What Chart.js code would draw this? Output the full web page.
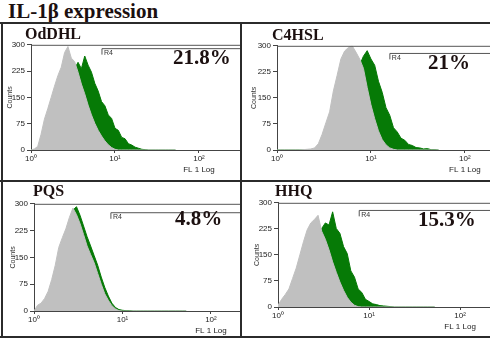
<!DOCTYPE html>
<html>
<head>
<meta charset="utf-8">
<script src="https://cdn.jsdelivr.net/npm/chart.js@4.4.1/dist/chart.umd.min.js"></script>
<style>
  body { margin: 0; background: #fff; }
  #wrap { position: relative; width: 490px; height: 338px; overflow: hidden; background: #fff; }
  canvas { position: absolute; }
  .rule { position: absolute; background: #2b2b2b; }
  .lbl { position: absolute; font-family: "Liberation Serif", "Times New Roman", serif; font-weight: bold;
         color: #1c1010; line-height: 1; white-space: nowrap; }
</style>
</head>
<body>
<div id="wrap">
  <div class="lbl" style="left:8px; top:1px; font-size:21px;">IL-1β expression</div>
</div>
<script>
// FL1 channels (log bins, 0.04 decade apart)
const bins = [1.00, 1.096, 1.202, 1.318, 1.445, 1.585, 1.738, 1.905, 2.089, 2.291,
              2.512, 2.754, 3.020, 3.311, 3.631, 3.981, 4.365, 4.786, 5.248, 5.754,
              6.310, 6.918, 7.586, 8.318, 9.120, 10.00, 10.96, 12.02, 13.18, 14.45,
              15.85, 17.38, 19.05, 20.89, 22.91, 25.12, 27.54, 30.20, 33.11, 36.31,
              39.81, 43.65, 47.86, 52.48];

// control (grey) and treated (green) counts per panel
const controlOdDHL = [0, 3, 10, 45, 88, 118, 150, 182, 212, 236, 278, 295, 262, 252, 222, 188, 160, 128, 100, 76,
                      56, 40, 26, 15, 7, 2, 0, 0, 0, 0, 0, 0, 0, 0, 0, 0, 0, 0, 0, 0, 0, 0, 0, 0];
const sampleOdDHL  = [0, 0, 2, 6, 15, 30, 50, 75, 100, 130, 158, 185, 210, 232, 250, 232, 268, 242, 222, 190,
                      168, 138, 126, 100, 90, 62, 56, 36, 32, 18, 14, 8, 5, 2, 1, 0, 0, 0, 0, 0, 0, 0, 0, 0];
const controlC4HSL = [0, 0, 0, 0, 0, 0, 0, 1, 2, 3, 6, 18, 45, 78, 110, 170, 215, 262, 285, 295,
                      300, 282, 262, 235, 180, 130, 90, 55, 30, 15, 6, 2, 0, 0, 0, 0, 0, 0, 0, 0, 0, 0, 0, 0];
const sampleC4HSL  = [0, 0, 0, 0, 0, 0, 0, 0, 0, 0, 2, 5, 12, 22, 38, 58, 82, 110, 140, 170,
                      198, 222, 245, 270, 286, 262, 244, 198, 166, 122, 100, 64, 52, 34, 28, 16, 13, 7, 6, 3, 4, 1, 1, 0];
const controlPQS   = [0, 16, 22, 35, 55, 88, 128, 178, 205, 230, 262, 288, 270, 245, 214, 182, 158, 135, 105, 75,
                      48, 30, 15, 6, 1, 0, 0, 0, 0, 0, 0, 0, 0, 0, 0, 0, 0, 0, 0, 0, 0, 0, 0, 0];
const samplePQS    = [0, 8, 12, 20, 35, 60, 95, 140, 170, 205, 240, 282, 292, 268, 238, 208, 182, 155, 128, 95,
                      66, 42, 22, 10, 4, 2, 1, 1, 0, 0, 0, 0, 0, 0, 0, 0, 0, 0, 0, 0, 0, 0, 0, 0];
const controlHHQ   = [5, 22, 36, 52, 82, 112, 150, 188, 222, 242, 252, 264, 218, 195, 165, 130, 100, 72, 48, 28,
                      14, 5, 1, 0, 0, 0, 0, 0, 0, 0, 0, 0, 0, 0, 0, 0, 0, 0, 0, 0, 0, 0, 0, 0];
const sampleHHQ    = [0, 5, 10, 18, 30, 45, 65, 90, 118, 145, 170, 195, 226, 242, 236, 274, 226, 212, 174, 154,
                      104, 86, 52, 42, 22, 16, 9, 7, 4, 3, 2, 1, 0, 0, 0, 0, 0, 0, 0, 0, 0, 0, 0, 0];

const panelNames = ['OdDHL', 'C4HSL', 'PQS', 'HHQ'];
const percents = ['21.8%', '21%', '4.8%', '15.3%'];
const controls = [controlOdDHL, controlC4HSL, controlPQS, controlHHQ];
const samples = [sampleOdDHL, sampleC4HSL, samplePQS, sampleHHQ];
const gateStart = [7.0, 15.9, 7.4, 7.8];
const gateLevel = [289, 278, 275, 278];
const tickVals = [1, 10, 100];
const tickLabels = ['10⁰', '10¹', ['10²', 'FL 1 Log']];

// where each panel sits in the 490x338 picture
const layout = [
  { left: 6,   top: 38,  width: 234, height: 140, yW: 25, xH: 28, xMax: 308, name: [25, 26],  pct: [173, 47] },
  { left: 250, top: 39,  width: 240, height: 139, yW: 27, xH: 28, xMax: 185, name: [272, 27], pct: [428, 52] },
  { left: 9,   top: 197, width: 231, height: 138, yW: 25, xH: 24, xMax: 213, name: [33, 183], pct: [175, 208] },
  { left: 253, top: 196, width: 237, height: 139, yW: 25, xH: 28, xMax: 213, name: [275, 183], pct: [418, 209] }
];

const rules = [
  [0, 22, 490, 2], [1, 22, 2, 316], [240, 22, 2, 316], [0, 180, 490, 2], [0, 336, 490, 2]
];

Chart.defaults.font.family = '"Liberation Sans", Arial, sans-serif';

const GREY = 'rgb(192, 192, 192)';
const GREEN = 'rgb(6, 122, 6)';

// top frame line of the plot and the "R4" gate label
const framePlugin = {
  id: 'frameGate',
  afterDatasetsDraw(chart, args, opts) {
    const { ctx, chartArea, scales } = chart;
    ctx.save();
    ctx.strokeStyle = '#555';
    ctx.lineWidth = 1;
    ctx.beginPath();
    ctx.moveTo(chartArea.left, chartArea.top + 0.5);
    ctx.lineTo(chartArea.right, chartArea.top + 0.5);
    ctx.stroke();
    const gx = scales.x.getPixelForValue(opts.gate);
    const gy = scales.y.getPixelForValue(opts.level);
    ctx.fillStyle = '#333';
    ctx.font = '7px "Liberation Sans", Arial, sans-serif';
    ctx.textBaseline = 'top';
    ctx.fillText('R4', gx + 2, gy + 1);
    ctx.restore();
  }
};

const wrap = document.getElementById('wrap');

layout.forEach((p, i) => {
  const canvas = document.createElement('canvas');
  canvas.width = p.width;
  canvas.height = p.height;
  canvas.style.left = p.left + 'px';
  canvas.style.top = p.top + 'px';
  wrap.appendChild(canvas);

  const histo = arr => bins.map((b, k) => ({ x: b, y: arr[k] }));

  new Chart(canvas.getContext('2d'), {
    type: 'line',
    data: {
      datasets: [
        {
          // gate bracket
          data: [{ x: gateStart[i], y: gateLevel[i] - 17 }, { x: gateStart[i], y: gateLevel[i] }, { x: p.xMax, y: gateLevel[i] }],
          borderColor: '#555', borderWidth: 1, fill: false, order: 0
        },
        { data: histo(controls[i]), backgroundColor: GREY, borderColor: GREY, borderWidth: 1, fill: 'origin', order: 1 },
        { data: histo(samples[i]), backgroundColor: GREEN, borderColor: GREEN, borderWidth: 1, fill: 'origin', order: 2 }
      ]
    },
    options: {
      responsive: false,
      animation: false,
      layout: { padding: { top: 4, left: 0, right: 0, bottom: 0 } },
      elements: { point: { radius: 0 }, line: { tension: 0 } },
      plugins: {
        legend: { display: false },
        tooltip: { enabled: false },
        frameGate: { gate: gateStart[i], level: gateLevel[i] }
      },
      scales: {
        x: {
          type: 'logarithmic',
          min: 1,
          max: p.xMax,
          afterBuildTicks: s => { s.ticks = tickVals.map(v => ({ value: v })); },
          afterFit: s => { s.height = p.xH; },
          grid: { drawOnChartArea: false, tickLength: 3, color: '#444' },
          border: { color: '#444' },
          ticks: {
            autoSkip: false, maxRotation: 0, padding: 1, color: '#222',
            font: { size: 8, lineHeight: 1.3 },
            callback: (v, k) => tickLabels[k]
          }
        },
        y: {
          min: 0,
          max: 300,
          afterFit: s => { s.width = p.yW; },
          title: { display: true, text: 'Counts', color: '#333', font: { size: 7 }, padding: 0 },
          grid: { drawOnChartArea: false, tickLength: 4, color: '#444' },
          border: { color: '#444' },
          ticks: { stepSize: 75, padding: 2, color: '#222', font: { size: 8 } }
        }
      }
    },
    plugins: [framePlugin]
  });

  const name = document.createElement('div');
  name.className = 'lbl';
  name.style.cssText = `left:${p.name[0]}px; top:${p.name[1]}px; font-size:16px;`;
  name.textContent = panelNames[i];
  wrap.appendChild(name);

  const pct = document.createElement('div');
  pct.className = 'lbl';
  pct.style.cssText = `left:${p.pct[0]}px; top:${p.pct[1]}px; font-size:21px;`;
  pct.textContent = percents[i];
  wrap.appendChild(pct);
});

rules.forEach(r => {
  const d = document.createElement('div');
  d.className = 'rule';
  d.style.cssText = `left:${r[0]}px; top:${r[1]}px; width:${r[2]}px; height:${r[3]}px;`;
  wrap.appendChild(d);
});
</script>
</body>
</html>
